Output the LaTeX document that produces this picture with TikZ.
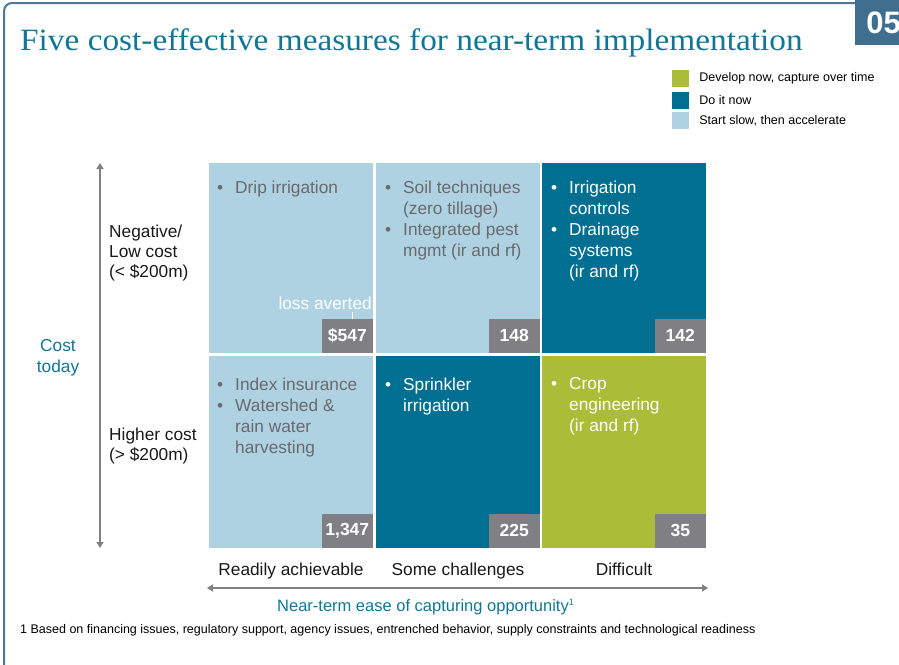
\documentclass[tikz,border=0pt]{standalone}
\usepackage{fontspec}
\setmainfont{Liberation Sans}
\newfontfamily\titlefont[FakeStretch=1.075]{Liberation Serif}
\usetikzlibrary{arrows.meta,positioning}

\definecolor{bleuclair}{RGB}{174,210,226}
\definecolor{bleufonce}{RGB}{0,111,145}
\definecolor{vertolive}{RGB}{169,189,56}
\definecolor{grisval}{RGB}{128,127,131}
\definecolor{gristexte}{RGB}{105,106,110}
\definecolor{grisfl}{RGB}{128,128,128}
\definecolor{tealtitre}{RGB}{16,118,150}
\definecolor{cadre}{RGB}{75,120,153}
\definecolor{bleunum}{RGB}{63,110,143}

\newcommand{\puce}{\makebox[18pt][l]{\textbullet}}
\newcommand{\retrait}{\hspace*{18pt}}

\begin{document}
\begin{tikzpicture}[x=1pt,y=-1pt,
		cellule/.style={anchor=north west,minimum width=164pt,inner sep=0pt,outer sep=0pt},
		chiffre/.style={anchor=south east,fill=grisval,text=white,font=\fontsize{17.5}{20}\selectfont\bfseries,
			minimum width=51pt,minimum height=34pt,inner sep=0pt},
		liste/.style={anchor=north west,align=left,inner sep=0pt,font=\fontsize{17.3}{21}\selectfont},
		etiquette/.style={align=left,inner sep=0pt,text=black!90,font=\fontsize{17.3}{20}\selectfont},
		carre/.style={minimum width=17pt,minimum height=17pt,inner sep=0pt},
		legende/.style={anchor=west,inner sep=0pt,font=\fontsize{12.5}{14}\selectfont},
		axe/.style={grisfl,line width=1.6pt,{Triangle[width=7pt,length=6pt]}-{Triangle[width=7pt,length=6pt]}}]%matrice cout / facilite
		
		\useasboundingbox (0,0) rectangle (899,664);
		
		% cadre et titre
		\draw[cadre,line width=2pt,rounded corners=8pt] (856,3) -- (4,3) -- (4,670);
		\node[fill=bleunum,minimum width=58pt,minimum height=45pt,inner sep=0pt,anchor=north west] (num) at (855,0) {};
		\node[text=white,font=\fontsize{31}{31}\selectfont\bfseries,inner sep=0pt] (numtxt) at (883.5,23) {05};
		\node[anchor=base west,inner sep=0pt,text=tealtitre,font=\titlefont\fontsize{31}{34}\selectfont] (titre) at (20,50)
			{Five cost-effective measures for near-term implementation};
		
		% legende
		\node[carre,fill=vertolive] (lg1) at (680.5,78.5) {};
		\node[carre,fill=bleufonce] (lg2) at (680.5,100) {};
		\node[carre,fill=bleuclair] (lg3) at (680.5,120.5) {};
		\node[legende,right=10pt of lg1] (lt1) {Develop now, capture over time};
		\node[legende,right=10pt of lg2] (lt2) {Do it now};
		\node[legende,right=10pt of lg3] (lt3) {Start slow, then accelerate};
		
		% cases de la matrice
		\foreach \nom/\x/\y/\h/\coul/\val in {c11/209/163/190/bleuclair/\$547, c12/376/163/190/bleuclair/148,
			c13/542/163/190/bleufonce/142, c21/209/356/192/bleuclair/1{,}347,
			c22/376/356/192/bleufonce/225, c23/542/356/192/vertolive/35} {
			\node[cellule,fill=\coul,minimum height=\h pt] (\nom) at (\x,\y) {};
			\node[chiffre] (v\nom) at (\nom.south east) {\val};}
		
		\node[liste,text=gristexte] (t11) at ([xshift=8pt,yshift=-18pt]c11.north west)
			{\puce Drip irrigation};
		\node[liste,text=gristexte] (t12) at ([xshift=9pt,yshift=-18pt]c12.north west)
			{\puce Soil techniques\\ \retrait(zero tillage)\\ \puce Integrated pest\\ \retrait mgmt (ir and rf)};
		\node[liste,text=white] (t13) at ([xshift=9pt,yshift=-18pt]c13.north west)
			{\puce Irrigation\\ \retrait controls\\ \puce Drainage\\ \retrait systems\\ \retrait(ir and rf)};
		\node[liste,text=gristexte] (t21) at ([xshift=8pt,yshift=-21.5pt]c21.north west)
			{\puce Index insurance\\ \puce Watershed \&\\ \retrait rain water\\ \retrait harvesting};
		\node[liste,text=white] (t22) at ([xshift=9pt,yshift=-21.5pt]c22.north west)
			{\puce Sprinkler\\ \retrait irrigation};
		\node[liste,text=white] (t23) at ([xshift=9pt,yshift=-21.5pt]c23.north west)
			{\puce Crop\\ \retrait engineering\\ \retrait(ir and rf)};
		
		% perte evitee
		\node[anchor=base east,inner sep=0pt,text=white,font=\fontsize{17.3}{20}\selectfont] (perte) at (372,309) {loss averted};
		\coordinate (tick) at ([xshift=-21pt]vc11.north east);
		\draw[white,line width=0.8pt] (tick) -- ([yshift=-3pt]tick |- perte.south);
		
		% axe vertical
		\coordinate (haut) at (100,163);
		\coordinate (bas) at (100,548);
		\draw[axe] (haut) -- (bas);
		\node[etiquette,anchor=west] (faible) at (109,253) {Negative/\\Low cost\\(< \$200m)};
		\node[etiquette,anchor=west] (eleve) at (109,446) {Higher cost\\(> \$200m)};
		\node[etiquette,align=center,anchor=center,text=tealtitre,font=\fontsize{17.3}{21}\selectfont] (cout) at (58,358) {Cost\\today};
		
		% axe horizontal
		\node[etiquette,anchor=base] (facile) at (c21.south |- 0,575) {Readily achievable};
		\node[etiquette,anchor=base] (moyen) at (c22.south |- 0,575) {Some challenges};
		\node[etiquette,anchor=base] (dur) at (c23.south |- 0,575) {Difficult};
		\coordinate (gauche) at (207,588);
		\coordinate (droite) at (708,588);
		\draw[axe] (gauche) -- (droite);
		\node[etiquette,anchor=base,text=tealtitre,font=\fontsize{16.5}{20}\selectfont] (facilite) at (425.5,611)
			{Near-term ease of capturing opportunity\raisebox{6pt}{\fontsize{9}{9}\selectfont 1}};
		
		% note
		\node[anchor=base west,inner sep=0pt,font=\fontsize{12.5}{14}\selectfont] (note) at (20,633)
			{1 Based on financing issues, regulatory support, agency issues, entrenched behavior, supply constraints and technological readiness};
	\end{tikzpicture}
\end{document}
